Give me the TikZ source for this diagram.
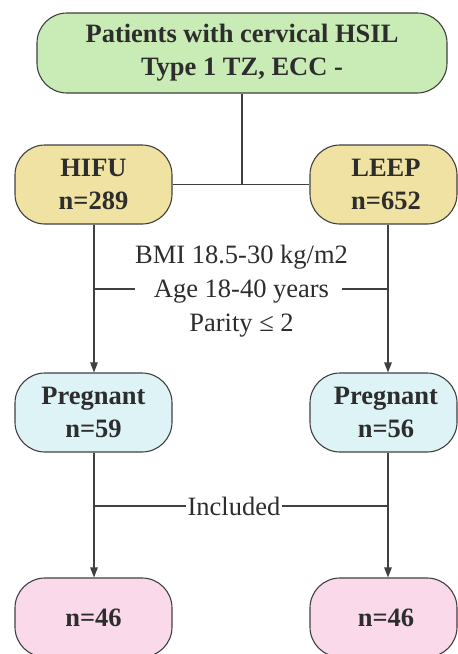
\documentclass[tikz,border=0pt]{standalone}
\usepackage{fontspec}
\setmainfont{Liberation Serif}
\usetikzlibrary{arrows.meta}
\definecolor{cgreen}{RGB}{201,235,182}
\definecolor{cyellow}{RGB}{240,226,162}
\definecolor{ccyan}{RGB}{221,243,245}
\definecolor{cpink}{RGB}{250,218,234}
\definecolor{cline}{RGB}{64,64,64}
\definecolor{ctext}{RGB}{45,45,45}
\tikzset{
  box/.style={draw=cline, line width=1.1pt, rounded corners=30pt, align=center,
    minimum height=79pt, inner sep=0pt, text=ctext,
    font=\fontsize{26.5}{33}\selectfont\bfseries},
  conn/.style={draw=cline, line width=1.1pt},
  arr/.style={conn, -{Triangle[width=7.5pt,length=10pt]}},
  lab/.style={text=ctext, align=center, inner sep=0pt, font=\fontsize{26.5}{34}\selectfont},
}
\begin{document}
\begin{tikzpicture}[x=1pt,y=-1pt]
\useasboundingbox (0,0) rectangle (458,654);
\coordinate (L) at (94,0);
\coordinate (R) at (388,0);
\node[box, fill=cgreen, minimum width=410pt, minimum height=80pt] (top) at (242,53) {Patients with cervical HSIL\\Type 1 TZ, ECC -};
\node[box, fill=cyellow, minimum width=157pt] (hifu) at (93.5,184.5) {HIFU\\n=289};
\node[box, fill=cyellow, minimum width=147pt] (leep) at (383.5,184.5) {\hspace*{5pt}LEEP\\\hspace*{5pt}n=652};
\node[box, fill=ccyan, minimum width=157pt] (pl) at (93.5,412.5) {Pregnant\\n=59};
\node[box, fill=ccyan, minimum width=147pt] (pr) at (383.5,412.5) {\hspace*{5pt}Pregnant\\\hspace*{5pt}n=56};
\node[box, fill=cpink, minimum width=157pt] (kl) at (93.5,617.5) {n=46};
\node[box, fill=cpink, minimum width=147pt] (kr) at (383.5,617.5) {\hspace*{5pt}n=46};
\node[lab] (crit) at (241.5,291) {BMI 18.5-30 kg/m2\\Age 18-40 years\\Parity ≤ 2};
\node[lab, inner xsep=1pt] (inc) at (234,506) {Included};
% connectors
\draw[conn] (hifu.east) -- (leep.west);
\draw[conn] (top.south) -- (top.south |- hifu.east);
\draw[arr] (hifu.south -| L) -- (pl.north -| L);
\draw[arr] (leep.south -| R) -- (pr.north -| R);
\draw[conn] (L |- 0,289) -- (crit.west |- 0,289);
\draw[conn] (crit.east |- 0,289) ++(-6,0) coordinate (ce) (ce) -- (R |- 0,289);
\draw[arr] (pl.south -| L) -- (kl.north -| L);
\draw[arr] (pr.south -| R) -- (kr.north -| R);
\draw[conn] (L |- inc) -- (inc.west);
\draw[conn] (inc.east) -- (R |- inc);
\end{tikzpicture}
\end{document}
